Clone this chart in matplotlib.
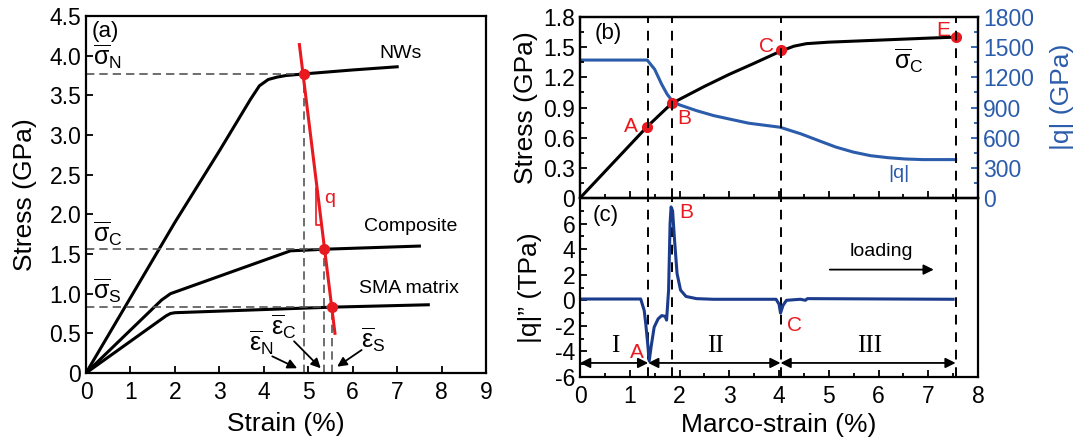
import numpy as np
import matplotlib.pyplot as plt
from matplotlib.ticker import MultipleLocator, FuncFormatter

plt.rcParams["font.family"] = ["Liberation Sans", "DejaVu Sans"]
plt.rcParams["mathtext.fontset"] = "custom"
plt.rcParams["mathtext.rm"] = "Liberation Sans"
plt.rcParams["mathtext.it"] = "Liberation Sans"
plt.rcParams["mathtext.bf"] = "Liberation Sans:bold"
plt.rcParams["axes.unicode_minus"] = False

RED = "#e8191f"
BLUE = "#2b5cab"
NAVY = "#1b3b8c"
GREY = "#555555"

# ---- panel (a): stress-strain curves ----
nw_x = [0, 1.0, 2.0, 3.0, 3.7, 3.9, 4.1, 4.3, 4.5, 4.9, 6.0, 7.0]
nw_y = [0, 0.95, 1.9, 2.8, 3.45, 3.62, 3.70, 3.73, 3.75, 3.77, 3.82, 3.86]
comp_x = [0, 1.7, 1.9, 2.5, 3.0, 3.5, 4.0, 4.4, 4.6, 5.0, 5.35, 7.5]
comp_y = [0, 0.92, 1.0, 1.12, 1.22, 1.32, 1.42, 1.50, 1.54, 1.55, 1.56, 1.60]
sma_x = [0, 1.8, 1.9, 2.0, 5.53, 7.7]
sma_y = [0, 0.72, 0.75, 0.76, 0.83, 0.86]
q_line_x = [4.80, 5.60]
q_line_y = [4.14, 0.50]
cross_x = [4.90, 5.35, 5.53]
cross_y = [3.77, 1.56, 0.83]

# ---- panel (b): composite stress and |q| ----
sc_x = [0, 1.35, 1.84, 2.5, 3.0, 3.5, 4.03, 4.3, 4.55, 5.0, 6.0, 7.0, 7.55]
sc_y = [0, 0.71, 0.94, 1.11, 1.23, 1.34, 1.46, 1.51, 1.535, 1.55, 1.57, 1.59, 1.60]
q_x = [0, 1.35, 1.50, 1.64, 1.75, 1.84, 1.99, 2.34, 2.69, 3.39, 4.02, 4.44,
       4.79, 5.14, 5.49, 5.84, 6.19, 6.54, 6.89, 7.55]
q_y = [1372, 1372, 1280, 1132, 1033, 974, 928, 869, 819, 744, 704, 638,
       572, 507, 457, 421, 401, 388, 382, 382]
pt_x = [1.35, 1.84, 4.03, 7.55]
pt_y = [0.71, 0.94, 1.47, 1.60]
stage_x = [1.37, 1.84, 4.03, 7.55]

# ---- panel (c): |q|'' ----
qq_x = [0, 1.22, 1.29, 1.32, 1.36, 1.39, 1.43, 1.49, 1.57, 1.64, 1.71, 1.74,
        1.78, 1.81, 1.83, 1.86, 1.90, 1.95, 2.02, 2.13, 2.34, 2.68, 3.94,
        4.00, 4.03, 4.08, 4.15, 4.43, 4.53, 4.57, 7.5]
qq_y = [0.1, 0.1, -0.8, -1.8, -3.4, -4.75, -3.6, -2.1, -1.45, -1.2, -1.25, -1.55,
        0.8, 6.0, 7.3, 7.0, 4.7, 2.1, 0.8, 0.3, 0.13, 0.08, 0.08,
        -0.3, -1.0, -0.4, 0.0, 0.08, 0.0, 0.13, 0.08]

TICK = 16.5
LAB = 19

fig = plt.figure(figsize=(10.85, 4.41), dpi=100)
ax = fig.add_axes([0.0793, 0.1542, 0.3687, 0.8095])
ax_b = fig.add_axes([0.5346, 0.5510, 0.3668, 0.4104])
ax_c = fig.add_axes([0.5346, 0.1451, 0.3668, 0.4059])
ax_q = ax_b.twinx()


def style(a):
    for s in a.spines.values():
        s.set_linewidth(1.6)
    a.tick_params(which="both", direction="in", labelsize=TICK, width=1.3)
    a.tick_params(which="major", length=5)
    a.tick_params(which="minor", length=3)


def zero_fmt(fmt):
    return FuncFormatter(lambda v, p: "0" if abs(v) < 1e-9 else fmt % v)


# (a)
style(ax)
ax.tick_params(axis="x", pad=6)
for xs, ys in [(nw_x, nw_y), (comp_x, comp_y), (sma_x, sma_y)]:
    ax.plot(xs, ys, color="k", lw=2.2)
for cx, cy in zip(cross_x, cross_y):
    ax.plot([0, cx], [cy, cy], color=GREY, lw=1.2, ls=(0, (5, 3)))
    ax.plot([cx, cx], [0, cy], color=GREY, lw=1.2, ls=(0, (5, 3)))
ax.plot(q_line_x, q_line_y, color=RED, lw=2.2)
ax.plot(cross_x, cross_y, "o", color=RED, ms=7)
ax.plot([5.19, 5.17, 5.17, 5.30], [2.33, 2.33, 1.86, 1.86], color=RED, lw=1.2)
ax.text(5.35, 2.2, "q", color=RED, fontsize=14, va="center")
ax.text(7.08, 4.03, "NWs", fontsize=14, ha="center", va="center")
ax.text(7.3, 1.85, "Composite", fontsize=14, ha="center", va="center")
ax.text(7.27, 1.06, "SMA matrix", fontsize=14, ha="center", va="center")
ax.text(0.12, 4.3, "(a)", fontsize=16, va="center")
ax.text(0.15, 3.98, r"$\overline{\sigma}_{\mathrm{N}}$", fontsize=18, va="center")
ax.text(0.15, 1.76, r"$\overline{\sigma}_{\mathrm{C}}$", fontsize=18, va="center")
ax.text(0.15, 1.03, r"$\overline{\sigma}_{\mathrm{S}}$", fontsize=18, va="center")
ax.text(3.95, 0.38, r"$\overline{\varepsilon}_{\mathrm{N}}$", fontsize=18, ha="center", va="center")
ax.text(4.45, 0.58, r"$\overline{\varepsilon}_{\mathrm{C}}$", fontsize=18, ha="center", va="center")
ax.text(6.45, 0.42, r"$\overline{\varepsilon}_{\mathrm{S}}$", fontsize=18, ha="center", va="center")
arrows_a = [((4.19, 0.21), (4.75, 0.06)), ((4.68, 0.40), (5.28, 0.06)), ((6.2, 0.29), (5.65, 0.08))]
for start, end in arrows_a:
    ax.annotate("", xy=end, xytext=start,
                arrowprops=dict(arrowstyle="-|>", color="k", lw=1.3, mutation_scale=14,
                                shrinkA=0, shrinkB=0))
ax.set_xlim(0, 9)
ax.set_ylim(0, 4.5)
ax.xaxis.set_major_locator(MultipleLocator(1))
ax.yaxis.set_major_locator(MultipleLocator(0.5))
ax.yaxis.set_major_formatter(zero_fmt("%.1f"))
ax.set_xlabel("Strain (%)", fontsize=LAB)
ax.set_ylabel("Stress (GPa)", fontsize=LAB)
ax.xaxis.set_label_coords(0.5, -0.108)
ax.yaxis.set_label_coords(-0.122, 0.5)

# (b)
style(ax_b)
style(ax_q)
ax_b.set_zorder(ax_q.get_zorder() + 1)
ax_b.patch.set_visible(False)
ax_q.plot(q_x, q_y, color=BLUE, lw=2.2)
ax_b.plot(sc_x, sc_y, color="k", lw=2.2)
ax_b.plot(pt_x, pt_y, "o", color=RED, ms=7)
for sx in stage_x:
    ax_b.axvline(sx, color="k", lw=1.4, ls=(0, (5, 4)))
    ax_c.axvline(sx, color="k", lw=1.4, ls=(0, (5, 4)))
ax_b.text(1.03, 0.71, "A", color=RED, fontsize=15, ha="center", va="center")
ax_b.text(2.1, 0.79, "B", color=RED, fontsize=15, ha="center", va="center")
ax_b.text(3.74, 1.51, "C", color=RED, fontsize=15, ha="center", va="center")
ax_b.text(7.31, 1.67, "E", color=RED, fontsize=15, ha="center", va="center")
ax_b.text(6.6, 1.36, r"$\overline{\sigma}_{\mathrm{C}}$", fontsize=18, ha="center", va="center")
ax_b.text(6.4, 0.24, "|q|", color=BLUE, fontsize=14, ha="center", va="center")
ax_b.text(0.3, 1.64, "(b)", fontsize=16, va="center")
ax_b.set_xlim(0, 8)
ax_b.set_ylim(0, 1.8)
ax_b.xaxis.set_major_locator(MultipleLocator(1))
ax_b.xaxis.set_minor_locator(MultipleLocator(0.5))
ax_b.yaxis.set_major_locator(MultipleLocator(0.3))
ax_b.yaxis.set_minor_locator(MultipleLocator(0.15))
ax_b.yaxis.set_major_formatter(zero_fmt("%.1f"))
ax_b.tick_params(axis="x", labelbottom=False)
ax_b.set_ylabel("Stress (GPa)", fontsize=LAB)
ax_b.yaxis.set_label_coords(-0.105, 0.5)
ax_q.set_ylim(0, 1800)
ax_q.yaxis.set_major_locator(MultipleLocator(300))
ax_q.yaxis.set_minor_locator(MultipleLocator(150))
ax_q.tick_params(axis="y", which="both", colors=BLUE)
ax_q.spines["right"].set_color(BLUE)
ax_q.set_ylabel("|q| (GPa)", fontsize=LAB, color=BLUE)
ax_q.yaxis.set_label_coords(1.18, 0.56)

# (c)
style(ax_c)
ax_c.tick_params(axis="x", pad=6)
ax_c.plot(qq_x, qq_y, color=NAVY, lw=2.2)
ax_c.text(1.15, -4.05, "A", color=RED, fontsize=15, ha="center", va="center")
ax_c.text(2.13, 6.9, "B", color=RED, fontsize=15, ha="center", va="center")
ax_c.text(4.32, -1.95, "C", color=RED, fontsize=15, ha="center", va="center")
ax_c.text(0.25, 6.65, "(c)", fontsize=16, va="center")
stage_names = ["I", "II", "III"]
stage_bounds = [0] + [stage_x[0], stage_x[2], stage_x[3]]
for i, name in enumerate(stage_names):
    x0, x1 = stage_bounds[i], stage_bounds[i + 1]
    ax_c.annotate("", xy=(x1, -4.9), xytext=(x0, -4.9),
                  arrowprops=dict(arrowstyle="<|-|>", color="k", lw=1.3,
                                  mutation_scale=15, shrinkA=0, shrinkB=0))
ax_c.text(0.7, -3.6, "I", fontsize=18, family="Liberation Serif", ha="center", va="center")
ax_c.text(2.72, -3.6, "II", fontsize=18, family="Liberation Serif", ha="center", va="center")
ax_c.text(5.82, -3.6, "III", fontsize=18, family="Liberation Serif", ha="center", va="center")
ax_c.text(6.05, 3.8, "loading", fontsize=14, ha="center", va="center")
ax_c.annotate("", xy=(7.11, 2.4), xytext=(5.02, 2.4),
              arrowprops=dict(arrowstyle="-|>", color="k", lw=1.3, mutation_scale=15,
                              shrinkA=0, shrinkB=0))
ax_c.set_xlim(0, 8)
ax_c.set_ylim(-6, 8)
ax_c.xaxis.set_major_locator(MultipleLocator(1))
ax_c.xaxis.set_minor_locator(MultipleLocator(0.5))
ax_c.set_yticks([-6, -4, -2, 0, 2, 4, 6])
ax_c.yaxis.set_minor_locator(MultipleLocator(1))
ax_c.set_xlabel("Marco-strain (%)", fontsize=LAB)
ax_c.set_ylabel("|q|\u201d (TPa)", fontsize=LAB)
ax_c.xaxis.set_label_coords(0.5, -0.2)
ax_c.yaxis.set_label_coords(-0.095, 0.5)

fig.savefig("out.png", dpi=100)
